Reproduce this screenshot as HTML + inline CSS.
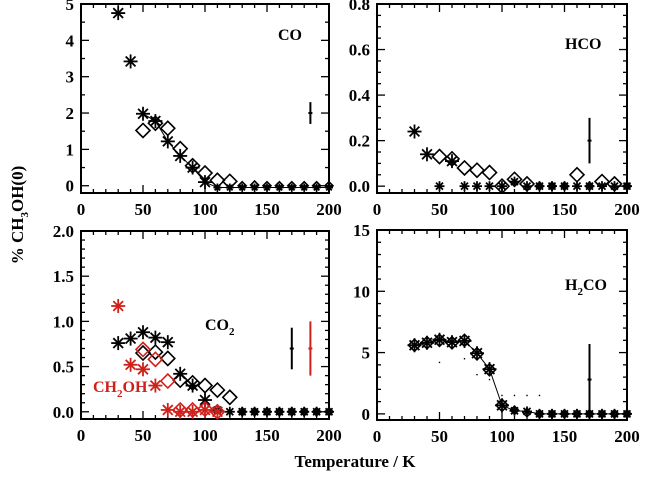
<!DOCTYPE html>
<html><head><meta charset="utf-8"><style>
body{margin:0;background:#fff}
svg{display:block;font-family:"Liberation Serif",serif;font-weight:bold}
</style></head><body>
<svg id="c" width="645" height="477"></svg>
<script>
const temps=[30,40,50,60,70,80,90,100,110,120,130,140,150,160,170,180,190,200];
const coStar=[4.75,3.42,1.98,1.78,1.22,0.82,0.5,0.1,-0.05,-0.05,-0.05,-0.05,-0.05,-0.05,-0.05,-0.05,-0.05,-0.05];
const coDiamT=[50,60,70,80,90,100,110,120,130,140,150,160,170,180,190,200];
const coDiam=[1.52,1.72,1.58,1.02,0.55,0.35,0.15,0.12,0,0.02,0,0,0,0,0,0];
const hcoStar=[0.24,0.14,0.0,0.11,0.0,0.0,0.0,0.0,0.02,0.0,0,0,0,0,0,0,0,0];
const hcoDiamT=[50,60,70,80,90,100,110,120,130,140,150,160,170,180,190,200];
const hcoDiam=[0.13,0.12,0.08,0.07,0.06,0.0,0.03,0.01,0,0,0,0.05,0,0.02,0.01,0];
const co2Star=[0.76,0.81,0.88,0.82,0.77,0.42,0.29,0.13,0.02,0,0,0,0,0,0,0,0,0];
const co2DiamT=[50,60,70,80,90,100,110,120,130,140,150,160,170,180,190,200];
const co2Diam=[0.65,0.66,0.59,0.35,0.32,0.29,0.24,0.16,0,0,0,0,0,0,0,0];
const ch2ohStarT=[30,40,50,60,70,80,90,100,110];
const ch2ohStar=[1.17,0.52,0.47,0.29,0.02,0,0,0.02,0];
const ch2ohDiamT=[50,60,70,80,90,100,110];
const ch2ohDiam=[0.69,0.58,0.34,0.02,0.02,0.03,0.0];
const h2coStar=[5.6,5.8,6.05,5.85,5.95,4.95,3.65,0.7,0.25,0.2,0,0,0,0,0,0,0,0];
const h2coDiam=[5.6,5.8,6.0,5.8,6.0,4.9,3.6,0.7,0.3,0.1,0,0,0,0,0,0,0,0];
const h2coDotT=[50,70,80,90,100,110,120,130];
const h2coDot=[4.2,4.5,3.2,2.8,1.5,1.5,1.5,1.5];
const xTicks=[0,50,100,150,200];
const coTicks=[0,1,2,3,4,5];
const hcoTicks=["0.0","0.2","0.4","0.6","0.8"];
const co2Ticks=["0.0","0.5","1.0","1.5","2.0"];
const h2coTicks=[0,5,10,15];

const NS="http://www.w3.org/2000/svg";
const svg=document.getElementById('c');
function el(t,a,p){const e=document.createElementNS(NS,t);for(const k in a)e.setAttribute(k,a[k]);(p||svg).appendChild(e);return e;}

function panel(name,L,R,T,B,ymin,ymax,yt,ytMinor){
  const g=el('g',{});
  
  
  const sx=v=>L+(v-0)/200*(R-L);
  const sy=v=>B-(v-ymin)/(ymax-ymin)*(B-T);
  const fr=el('rect',{x:L,y:T,width:R-L,height:B-T,fill:'none',stroke:'#000','stroke-width':2},g);
  
  
  for(let v=0;v<=200;v+=10){const big=v%50===0;const l=big?8:4;
    el('line',{x1:sx(v),x2:sx(v),y1:B,y2:B-l,stroke:'#000','stroke-width':1.3},g);
    el('line',{x1:sx(v),x2:sx(v),y1:T,y2:T+l,stroke:'#000','stroke-width':1.3},g);}
  xTicks.forEach(v=>{const t=el('text',{x:sx(v),y:B+22,'text-anchor':'middle','font-size':17},g);t.textContent=v;
    });
  const step=(+yt[1])-(+yt[0]);
  for(let v=+yt[0];v<=ymax+1e-9;v+=step/ytMinor){const big=Math.abs((v-yt[0])/step-Math.round((v-yt[0])/step))<1e-6;const l=big?8:4;
    el('line',{x1:L,x2:L+l,y1:sy(v),y2:sy(v),stroke:'#000','stroke-width':1.3},g);
    el('line',{x1:R,x2:R-l,y1:sy(v),y2:sy(v),stroke:'#000','stroke-width':1.3},g);}
  yt.forEach(v=>{const t=el('text',{x:L-7,y:sy(+v)+6,'text-anchor':'end','font-size':17},g);t.textContent=v;
    });
  return {g,sx,sy};
}
function star(p,x,y,c,s){s=s||7;const g=el('g',{stroke:c,'stroke-width':1.8},p.g);
  
  const X=p.sx(x),Y=p.sy(y);
  el('line',{x1:X-s,x2:X+s,y1:Y,y2:Y},g);el('line',{x1:X,x2:X,y1:Y-s,y2:Y+s},g);
  el('line',{x1:X-s*.7,x2:X+s*.7,y1:Y-s*.7,y2:Y+s*.7},g);el('line',{x1:X-s*.7,x2:X+s*.7,y1:Y+s*.7,y2:Y-s*.7},g);}
function diam(p,x,y,c,s){s=s||7;const X=p.sx(x),Y=p.sy(y);
  const d=el('polygon',{points:`${X-s},${Y} ${X},${Y-s} ${X+s},${Y} ${X},${Y+s}`,fill:'none',stroke:c,'stroke-width':1.6},p.g);
  }
function line(p,xs,ys,c,w){const pl=el('polyline',{points:xs.map((x,i)=>p.sx(x)+','+p.sy(ys[i])).join(' '),fill:'none',stroke:c,'stroke-width':w||1},p.g);
  }
function err(p,x,y,e,c){const X=p.sx(x);const g=el('g',{stroke:c,'stroke-width':2},p.g);
  
  el('line',{x1:X,x2:X,y1:p.sy(y-e),y2:p.sy(y+e)},g);el('line',{x1:X-2,x2:X+2,y1:p.sy(y),y2:p.sy(y)},g);}
function label(p,x,y,txt,sub,rest,c){const t=el('text',{x:x,y:y,'font-size':16,fill:c||'#000'},p.g);
  
  t.appendChild(document.createTextNode(txt));
  if(sub){const s=el('tspan',{'font-size':11,dy:5},t);s.textContent=sub;const r=el('tspan',{dy:-5},t);r.textContent=rest||'';}}

// CO
let p=panel('co',81,329,4,193,-0.2,5,coTicks,2);
line(p,temps.slice(2),coStar.slice(2),'#000',1);
coDiamT.forEach((t,i)=>diam(p,t,coDiam[i],'#000',t>125?4:7));
temps.forEach((t,i)=>star(p,t,coStar[i],'#000',t>105?4:7));
err(p,185,2,0.3,'#000');
label(p,278,40,'CO');
// HCO
p=panel('hco',377,627,4,193,-0.03,0.8,hcoTicks,4);
hcoDiamT.forEach((t,i)=>diam(p,t,hcoDiam[i],'#000',t>125&&hcoDiam[i]<0.01?4:7));
temps.forEach((t,i)=>star(p,t,hcoStar[i],'#000',hcoStar[i]<0.01||t>100?5:7));
err(p,170,0.2,0.1,'#000');
label(p,565,49,'HCO');
// CO2
p=panel('co2',81,329,231,419,-0.08,2.0,co2Ticks,5);
co2DiamT.forEach((t,i)=>diam(p,t,co2Diam[i],'#000',t>125?4:7));
temps.forEach((t,i)=>star(p,t,co2Star[i],'#000',t>105?5:7));
ch2ohDiamT.forEach((t,i)=>diam(p,t,ch2ohDiam[i],'#d0201a',7));
ch2ohStarT.forEach((t,i)=>star(p,t,ch2ohStar[i],'#d0201a',7));
err(p,170,0.7,0.23,'#000');
err(p,185,0.7,0.3,'#d0201a');
label(p,205,330,'CO','2','');
label(p,93,392,'CH','2','OH','#d0201a');
// H2CO
p=panel('h2co',377,627,230,420,-0.5,15,h2coTicks,5);
line(p,temps,h2coStar,'#000',1);
temps.forEach((t,i)=>diam(p,t,h2coDiam[i],'#000',t>105?4:6));
temps.forEach((t,i)=>star(p,t,h2coStar[i],'#000',t>105?5:7));
h2coDotT.forEach((t,i)=>{const d=el('circle',{cx:p.sx(t),cy:p.sy(h2coDot[i]),r:0.8,fill:'#000'},p.g);
  });
err(p,170,2.8,2.9,'#000');
label(p,565,290,'H','2','CO');

const yt=el('text',{x:0,y:0,'font-size':17,'text-anchor':'middle',transform:'translate(23,215) rotate(-90)'});

yt.appendChild(document.createTextNode('% CH'));
const s1=el('tspan',{'font-size':11,dy:5},yt);s1.textContent='3';
const s2=el('tspan',{dy:-5},yt);s2.textContent='OH(0)';
const xt=el('text',{x:355,y:467,'font-size':17,'text-anchor':'middle'});

xt.textContent='Temperature / K';
</script>
</body></html>
